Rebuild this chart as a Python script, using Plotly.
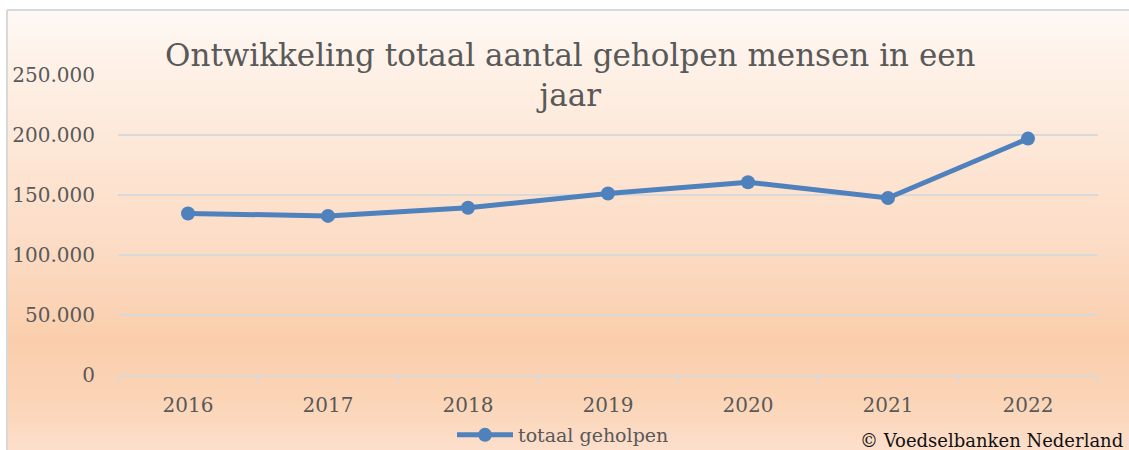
import plotly.graph_objects as go

years = ["2016", "2017", "2018", "2019", "2020", "2021", "2022"]
geholpen = [134600, 132600, 139400, 151200, 160600, 147500, 197000]
series_name = "totaal geholpen"
title_text = "Ontwikkeling totaal aantal geholpen mensen in een<br>jaar"
credit_text = "© Voedselbanken Nederland"

W, H = 1129, 450
L, R, T, B = 118, 31, 75, 75
pw, ph = W - L - R, H - T - B


def px_x(x):
    return (x - L) / pw


def px_y(y):
    return (H - B - y) / ph


# background gradient stops (pixel y, rgb)
stops = [(10, (254, 249, 246)), (60, (254, 242, 233)), (150, (253, 231, 214)),
         (250, (252, 219, 196)), (340, (250, 206, 172)), (400, (251, 212, 182)),
         (450, (252, 223, 203))]


def col_at(y):
    for (y0, c0), (y1, c1) in zip(stops[:-1], stops[1:]):
        if y0 <= y <= y1:
            t = (y - y0) / (y1 - y0)
            return tuple(round(a + (b - a) * t) for a, b in zip(c0, c1))
    return stops[-1][1]


shapes = []
step = 5
for y in range(10, 450, step):
    c = col_at(y + step / 2)
    shapes.append(dict(type="rect", xref="paper", yref="paper", layer="below",
                       x0=px_x(7), x1=px_x(W + 2), y0=px_y(y + step + 0.6), y1=px_y(y),
                       fillcolor="rgb(%d,%d,%d)" % c, line=dict(width=0)))
# border
shapes.append(dict(type="line", xref="paper", yref="paper", layer="below",
                   x0=px_x(7), x1=px_x(7), y0=px_y(10), y1=px_y(452),
                   line=dict(color="#d9d9d9", width=2)))
shapes.append(dict(type="line", xref="paper", yref="paper", layer="below",
                   x0=px_x(7), x1=px_x(W + 2), y0=px_y(10), y1=px_y(10),
                   line=dict(color="#d9d9d9", width=2)))

fig = go.Figure()
fig.add_trace(go.Scatter(
    x=years, y=geholpen, name=series_name, mode="lines+markers",
    line=dict(color="#4f81bd", width=5),
    marker=dict(color="#4f81bd", size=14),
))

font = "DejaVu Serif"
gray = "#595959"

fig.update_layout(
    width=W, height=H,
    margin=dict(l=L, r=R, t=T, b=B, autoexpand=False),
    paper_bgcolor="white",
    plot_bgcolor="rgba(0,0,0,0)",
    separators=",.",
    font=dict(family=font, color=gray, size=20),
    shapes=shapes,
    showlegend=True,
    legend=dict(orientation="h", x=px_x(563), xanchor="center", y=px_y(435), yanchor="middle",
                font=dict(size=19, color=gray), itemwidth=56, bgcolor="rgba(0,0,0,0)"),
    annotations=[
        dict(text=title_text, xref="paper", yref="paper", x=px_x(570), y=px_y(75),
             xanchor="center", yanchor="middle", showarrow=False,
             font=dict(family=font, size=31, color=gray)),
        dict(text=credit_text, xref="paper", yref="paper", x=px_x(1125), y=px_y(440),
             xanchor="right", yanchor="middle", showarrow=False,
             font=dict(family=font, size=18, color="#111111")),
    ],
)
fig.update_xaxes(
    type="category", range=[-0.5, 6.5], tickson="boundaries", ticks="outside",
    ticklen=6, tickcolor="#d9d9d9", tickwidth=2, showgrid=False,
    showline=True, linecolor="#d9d9d9", linewidth=2,
    tickfont=dict(size=20, color=gray), ticklabelstandoff=11,
)
fig.update_yaxes(
    range=[0, 250000], tickvals=[0, 50000, 100000, 150000, 200000, 250000],
    tickformat=",d", showgrid=True, gridcolor="#d9d9d9", gridwidth=2,
    zeroline=False, showline=False, ticks="",
    tickfont=dict(size=20, color=gray), ticklabelstandoff=22,
)

fig.write_html("out.html", config={"displayModeBar": False},
               post_script="document.body.style.margin='0';document.body.style.overflow='hidden';")
